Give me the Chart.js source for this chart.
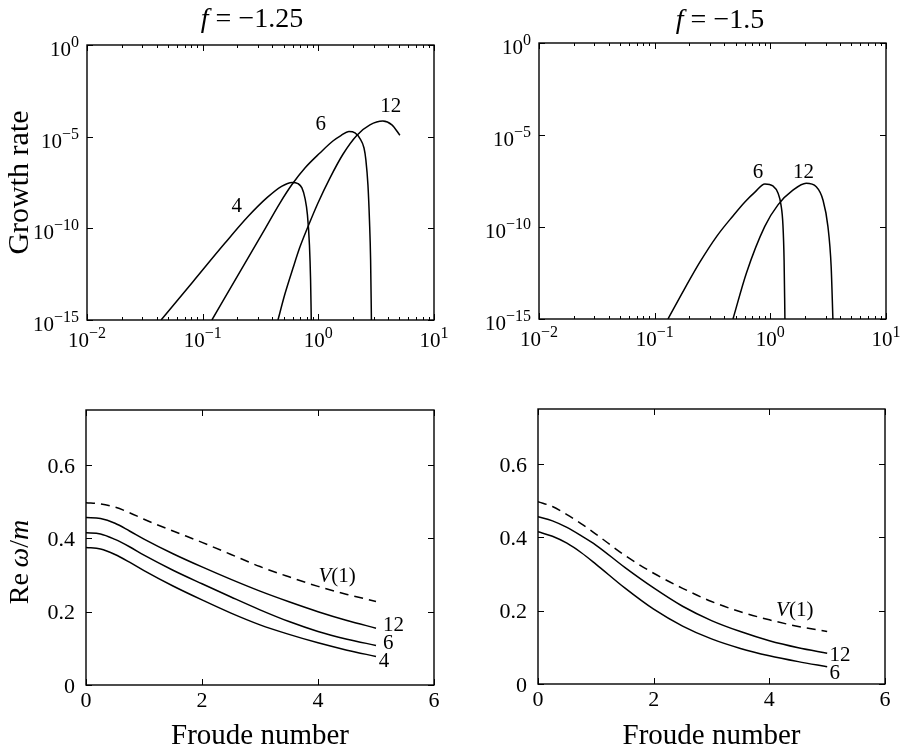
<!DOCTYPE html>
<html>
<head>
<meta charset="utf-8">
<script src="https://cdn.jsdelivr.net/npm/chart.js@4.4.1/dist/chart.umd.min.js"></script>
<style>
html,body{margin:0;padding:0;background:#ffffff;}
#wrap{position:relative;width:906px;height:754px;background:#fff;overflow:hidden;}
canvas{position:absolute;display:block;}
</style>
</head>
<body>
<div id="wrap">
<canvas id="cTL" width="453" height="365" style="left:0px;top:0px;width:453px;height:365px"></canvas>
<canvas id="cTR" width="453" height="365" style="left:453px;top:0px;width:453px;height:365px"></canvas>
<canvas id="cBL" width="453" height="389" style="left:0px;top:365px;width:453px;height:389px"></canvas>
<canvas id="cBR" width="453" height="389" style="left:453px;top:365px;width:453px;height:389px"></canvas>
</div>
<script>
// ---------------- data ----------------
const logXTicks = [0.01, 0.1, 1, 10];
const logXTickExp = ['\u22122', '\u22121', '0', '1'];
const logYTicks = [1e-15, 1e-10, 1e-5, 1];
const logYTickExp = ['\u221215', '\u221210', '\u22125', '0'];
const logTickBase = '10';
const linXTicks = [0, 2, 4, 6];
const linXTickLabels = ['0', '2', '4', '6'];
const linYTicks = [0, 0.2, 0.4, 0.6];
const linYTickLabels = ['0', '0.2', '0.4', '0.6'];

// Top-left panel (f = -1.25): growth rate vs Froude number, m = 4, 6, 12
const tlM4F  = [0.0437, 0.0824, 0.156, 0.2466, 0.360, 0.481, 0.592, 0.667, 0.721, 0.766, 0.805, 0.838, 0.857, 0.869];
const tlM4G  = [1e-15, 1.23e-13, 1.58e-11, 4.4e-10, 4.7e-9, 1.95e-8, 3.2e-8, 2.75e-8, 1.6e-8, 4.5e-9, 5.4e-10, 1.2e-11, 1.5e-13, 1e-15];
const tlM6F  = [0.1202, 0.2099, 0.3451, 0.4656, 0.5916, 0.766, 1.032, 1.336, 1.567, 1.837, 2.075, 2.291, 2.483, 2.576, 2.685, 2.767, 2.831, 2.877];
const tlM6G  = [1e-15, 4.2e-13, 9.1e-11, 2.4e-9, 2.45e-8, 1.95e-7, 1.29e-6, 5.8e-6, 1.15e-5, 1.9e-5, 1.6e-5, 7.9e-6, 2.4e-6, 5.4e-7, 2.3e-8, 2.8e-10, 1.9e-12, 1e-15];
const tlM12F = [0.4477, 0.514, 0.604, 0.693, 0.798, 0.993, 1.259, 1.633, 2.158, 2.793, 3.614, 4.325, 5.07];
const tlM12G = [1e-15, 2.6e-14, 6.8e-13, 9.5e-12, 9.1e-11, 2.4e-9, 5.5e-8, 1.1e-6, 1.2e-5, 4.4e-5, 7.1e-5, 4.4e-5, 1.2e-5];

// Top-right panel (f = -1.5): m = 6, 12
const trM6F  = [0.1303, 0.1828, 0.2466, 0.3451, 0.4753, 0.6026, 0.7362, 0.8974, 1.052, 1.164, 1.236, 1.285, 1.315, 1.337];
const trM6G  = [1e-15, 4.8e-14, 1.26e-12, 3.2e-11, 4.0e-10, 2.3e-9, 7.9e-9, 2.2e-8, 1.7e-8, 7.1e-9, 1.6e-9, 1.3e-10, 1.6e-12, 1e-15];
const trM12F = [0.4753, 0.6194, 0.8933, 1.164, 1.567, 2.042, 2.495, 2.851, 3.148, 3.357, 3.475];
const trM12G = [1e-15, 3.0e-13, 1.05e-10, 1.6e-9, 1.0e-8, 2.4e-8, 1.55e-8, 2.95e-9, 1.05e-10, 6.9e-13, 1e-15];

// Bottom panels: Re omega/m vs Froude number
const froude = [0, 0.25, 0.5, 0.75, 1, 1.5, 2, 2.5, 3, 3.5, 4, 4.5, 5];
const blV1  = [0.497, 0.494, 0.485, 0.470, 0.452, 0.420, 0.389, 0.356, 0.323, 0.295, 0.269, 0.247, 0.228];
const blM12 = [0.457, 0.454, 0.441, 0.420, 0.398, 0.358, 0.322, 0.288, 0.256, 0.227, 0.200, 0.176, 0.155];
const blM6  = [0.415, 0.412, 0.397, 0.377, 0.354, 0.313, 0.276, 0.240, 0.205, 0.173, 0.146, 0.125, 0.108];
const blM4  = [0.375, 0.371, 0.356, 0.335, 0.312, 0.270, 0.232, 0.196, 0.164, 0.138, 0.115, 0.095, 0.078];
const brV1  = [0.497, 0.484, 0.462, 0.437, 0.409, 0.351, 0.302, 0.261, 0.225, 0.197, 0.175, 0.157, 0.143];
const brM12 = [0.456, 0.445, 0.427, 0.404, 0.379, 0.318, 0.262, 0.212, 0.173, 0.143, 0.118, 0.099, 0.084];
const brM6  = [0.415, 0.403, 0.384, 0.358, 0.327, 0.262, 0.204, 0.158, 0.123, 0.097, 0.077, 0.061, 0.047];

// Curve labels (text segments [text, italic], anchored in data coordinates)
const tlLabels = [{t: [['4', 0]], x: 0.197, y: 1.5e-9}, {t: [['6', 0]], x: 1.047, y: 4.9e-5}, {t: [['12', 0]], x: 4.22, y: 4.7e-4}];
const trLabels = [{t: [['6', 0]], x: 0.782, y: 9.4e-8}, {t: [['12', 0]], x: 1.94, y: 9.4e-8}];
const blLabels = [{t: [['V', 1], ['(1)', 0]], x: 4.33, y: 0.297}, {t: [['12', 0]], x: 5.30, y: 0.162}, {t: [['6', 0]], x: 5.21, y: 0.114}, {t: [['4', 0]], x: 5.14, y: 0.064}];
const brLabels = [{t: [['V', 1], ['(1)', 0]], x: 4.44, y: 0.200}, {t: [['12', 0]], x: 5.22, y: 0.077}, {t: [['6', 0]], x: 5.13, y: 0.029}];

// ---------------- drawing helpers ----------------
const SERIF = "'Liberation Serif', 'Times New Roman', 'DejaVu Serif', serif";

function xy(xs, ys) { return xs.map((x, i) => ({x: x, y: ys[i]})); }

function drawRich(ctx, segs, x, y, size, align) {
  const fonts = segs.map(s => (s[1] ? 'italic ' : '') + size + 'px ' + SERIF);
  let w = 0;
  const widths = segs.map((s, i) => { ctx.font = fonts[i]; const m = ctx.measureText(s[0]).width; w += m; return m; });
  let cx = align === 'left' ? x : x - w / 2;
  ctx.textAlign = 'left';
  segs.forEach((s, i) => { ctx.font = fonts[i]; ctx.fillText(s[0], cx, y); cx += widths[i]; });
}

const framePlugin = {
  id: 'frame',
  afterDraw(chart, args, o) {
    const {ctx, chartArea: a, scales} = chart;
    ctx.save();
    ctx.strokeStyle = '#000';
    ctx.lineWidth = 1;
    const tl = 6;
    ctx.beginPath();
    scales.x.ticks.forEach(t => {
      const p = Math.round(scales.x.getPixelForValue(t.value)) + 0.5;
      ctx.moveTo(p, a.bottom); ctx.lineTo(p, a.bottom - tl);
      ctx.moveTo(p, a.top); ctx.lineTo(p, a.top + tl);
    });
    scales.y.ticks.forEach(t => {
      const p = Math.round(scales.y.getPixelForValue(t.value)) + 0.5;
      ctx.moveTo(a.left, p); ctx.lineTo(a.left + tl, p);
      ctx.moveTo(a.right, p); ctx.lineTo(a.right - tl, p);
    });
    if (o.minorX) {
      for (let d = 0; d < logXTicks.length - 1; d++) {
        for (let k = 2; k <= 9; k++) {
          const p = Math.round(scales.x.getPixelForValue(k * logXTicks[d])) + 0.5;
          ctx.moveTo(p, a.bottom); ctx.lineTo(p, a.bottom - 3);
          ctx.moveTo(p, a.top); ctx.lineTo(p, a.top + 3);
        }
      }
    }
    ctx.stroke();
    ctx.lineWidth = 1.4;
    ctx.strokeRect(a.left, a.top, a.right - a.left, a.bottom - a.top);

    // power-of-ten tick labels on logarithmic axes (base + raised exponent)
    if (o.logLabels) {
      ctx.fillStyle = '#000';
      ctx.textAlign = 'left';
      ctx.textBaseline = 'alphabetic';
      const baseFont = '21px ' + SERIF, expFont = '16px ' + SERIF;
      const measure = (s, f) => { ctx.font = f; return ctx.measureText(s).width; };
      scales.x.ticks.forEach((t, i) => {
        const p = scales.x.getPixelForValue(t.value);
        const wb = measure(logTickBase, baseFont), we = measure(logXTickExp[i], expFont);
        const x0 = p - (wb + we) / 2, yb = a.bottom + 27;
        ctx.font = baseFont; ctx.fillText(logTickBase, x0, yb);
        ctx.font = expFont; ctx.fillText(logXTickExp[i], x0 + wb, yb - 9);
      });
      scales.y.ticks.forEach((t, i) => {
        const p = scales.y.getPixelForValue(t.value);
        const wb = measure(logTickBase, baseFont), we = measure(logYTickExp[i], expFont);
        const x0 = a.left - 8 - (wb + we), yb = p + 11;
        ctx.font = baseFont; ctx.fillText(logTickBase, x0, yb);
        ctx.font = expFont; ctx.fillText(logYTickExp[i], x0 + wb, yb - 9);
      });
    }
    ctx.restore();
  }
};

const annotPlugin = {
  id: 'annot',
  afterDraw(chart, args, o) {
    const {ctx, scales} = chart;
    ctx.save();
    ctx.fillStyle = '#000';
    ctx.textBaseline = 'alphabetic';
    if (o.title) drawRich(ctx, o.title, o.titleX, o.titleY, 28, 'center');
    ctx.textBaseline = 'middle';
    (o.labels || []).forEach(l => {
      drawRich(ctx, l.t, scales.x.getPixelForValue(l.x), scales.y.getPixelForValue(l.y), 21, 'center');
    });
    if (o.yTitle) {
      ctx.translate(o.yTitleX, o.yTitleY);
      ctx.rotate(-Math.PI / 2);
      drawRich(ctx, o.yTitle, 0, 0, 28, 'center');
    }
    ctx.restore();
  }
};

function panel(id, o) {
  const tickFont = {family: SERIF, size: 22};
  const datasets = o.series.map(s => ({
    data: s.data,
    borderColor: '#000',
    borderWidth: 1.5,
    borderDash: s.dash || [],
    pointRadius: 0,
    fill: false,
    cubicInterpolationMode: 'monotone'
  }));
  return new Chart(document.getElementById(id), {
    type: 'line',
    data: {datasets: datasets},
    options: {
      responsive: false,
      animation: false,
      devicePixelRatio: 1,
      layout: {padding: o.padding},
      plugins: {
        legend: {display: false},
        tooltip: {enabled: false},
        title: {display: false},
        frame: {minorX: o.xLog, logLabels: o.xLog},
        annot: {title: o.title, titleX: o.titleX, titleY: o.titleY, labels: o.labels,
                yTitle: o.yTitleRich, yTitleX: o.yTitleX, yTitleY: o.yTitleY}
      },
      scales: {
        x: {
          type: o.xLog ? 'logarithmic' : 'linear',
          min: o.xMin, max: o.xMax,
          afterBuildTicks: s => { s.ticks = o.xTicks.map(v => ({value: v})); },
          afterFit: s => { s.height = o.xH; },
          grid: {display: false, drawTicks: false},
          border: {display: false},
          ticks: {display: !o.xLog, autoSkip: false, maxRotation: 0, minRotation: 0, padding: o.xPad, color: '#000',
                  font: tickFont, callback: (v, i) => (o.xLabels ? o.xLabels[i] : '')},
          title: o.xTitle ? {display: true, text: o.xTitle, color: '#000',
                  font: {family: SERIF, size: 29}, padding: {top: 0, bottom: o.xTitlePad}} : {display: false}
        },
        y: {
          type: o.yLog ? 'logarithmic' : 'linear',
          min: o.yMin, max: o.yMax,
          afterBuildTicks: s => { s.ticks = o.yTicks.map(v => ({value: v})); },
          afterFit: s => { s.width = o.yW; },
          grid: {display: false, drawTicks: false},
          border: {display: false},
          ticks: {display: !o.yLog, autoSkip: false, padding: o.yPad, color: '#000', font: tickFont,
                  labelOffset: o.yLabelOffset, callback: (v, i) => (o.yLabels ? o.yLabels[i] : '')},
          title: o.yTitle ? {display: true, text: o.yTitle, color: '#000',
                  font: {family: SERIF, size: 30}, padding: {top: 2, bottom: 0}} : {display: false}
        }
      }
    },
    plugins: [framePlugin, annotPlugin]
  });
}

const logCommon = {
  xLog: true, yLog: true, xMin: 0.01, xMax: 10, yMin: 1e-15, yMax: 1,
  xTicks: logXTicks, yTicks: logYTicks
};
const linCommon = {
  xLog: false, yLog: false, xMin: 0, xMax: 6, yMin: 0, yMax: 0.75,
  xTicks: linXTicks, xLabels: linXTickLabels, yTicks: linYTicks, yLabels: linYTickLabels,
  xPad: 3, yPad: 11, yLabelOffset: 2, xTitle: 'Froude number', xTitlePad: 0
};

panel('cTL', Object.assign({}, logCommon, {
  padding: {left: 0, right: 19, top: 45, bottom: 0}, yW: 87, xH: 45,
  yTitle: 'Growth rate',
  title: [['f', 1], [' = \u22121.25', 0]], titleX: 252, titleY: 27,
  labels: tlLabels,
  series: [{data: xy(tlM4F, tlM4G)}, {data: xy(tlM6F, tlM6G)}, {data: xy(tlM12F, tlM12G)}]
}));

panel('cTR', Object.assign({}, logCommon, {
  padding: {left: 0, right: 20, top: 43, bottom: 0}, yW: 86, xH: 46,
  title: [['f', 1], [' = \u22121.5', 0]], titleX: 267, titleY: 28,
  labels: trLabels,
  series: [{data: xy(trM6F, trM6G)}, {data: xy(trM12F, trM12G)}]
}));

panel('cBL', Object.assign({}, linCommon, {
  padding: {left: 0, right: 19, top: 45, bottom: 0}, yW: 86, xH: 69,
  yTitleRich: [['Re\u2009', 0], ['\u03C9', 1], ['/', 0], ['m', 1]], yTitleX: 21, yTitleY: 197,
  labels: blLabels,
  series: [{data: xy(froude, blV1), dash: [9, 6]}, {data: xy(froude, blM12)}, {data: xy(froude, blM6)}, {data: xy(froude, blM4)}]
}));

panel('cBR', Object.assign({}, linCommon, {
  padding: {left: 0, right: 21, top: 44, bottom: 0}, yW: 85, xH: 70,
  labels: brLabels,
  series: [{data: xy(froude, brV1), dash: [9, 6]}, {data: xy(froude, brM12)}, {data: xy(froude, brM6)}]
}));
</script>
</body>
</html>
